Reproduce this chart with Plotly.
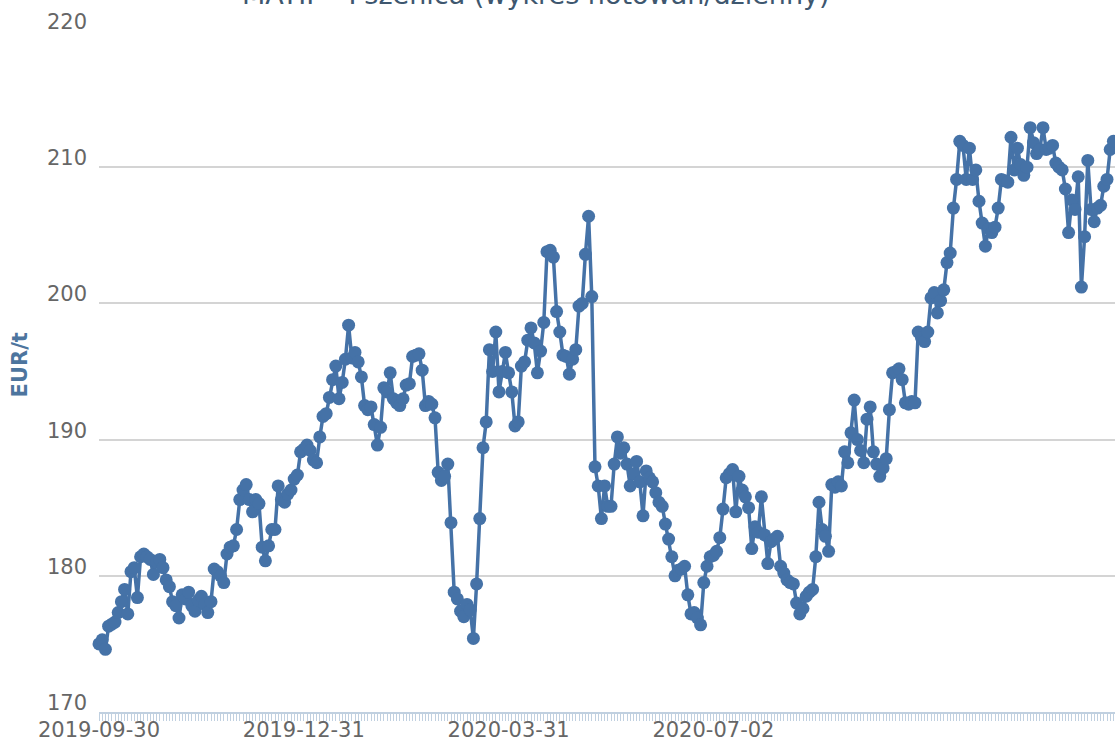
import plotly.graph_objects as go

# ---- data ----
tick_labels = ["2019-09-30", "2019-12-31", "2020-03-31", "2020-07-02"]
tick_index = [0, 64, 128, 192]

prices = [
    175.0, 175.3, 174.6, 176.3, 176.45, 176.6, 177.3, 178.1, 179.0, 177.2,
    180.3, 180.6, 178.4, 181.4, 181.6, 181.4, 181.2, 180.1, 181.0, 181.2,
    180.6, 179.7, 179.2, 178.1, 177.8, 176.9, 178.6, 178.3, 178.8, 177.8,
    177.4, 178.2, 178.5, 177.9, 177.3, 178.1, 180.5, 180.3, 180.0, 179.5,
    181.6, 182.1, 182.2, 183.4, 185.6, 186.3, 186.7, 185.6, 184.7, 185.6,
    185.3, 182.1, 181.1, 182.2, 183.4, 183.4, 186.6, 185.6, 185.4, 186.0,
    186.3, 187.1, 187.4, 189.1, 189.3, 189.6, 189.2, 188.5, 188.3, 190.2,
    191.7, 191.9, 193.1, 194.4, 195.4, 193.0, 194.2, 195.9, 198.4, 196.0,
    196.4, 195.7, 194.6, 192.5, 192.2, 192.4, 191.1, 189.6, 190.9, 193.8,
    193.5, 194.9, 193.0, 192.7, 192.5, 193.0, 194.0, 194.1, 196.1, 196.2,
    196.3, 195.1, 192.5, 192.8, 192.6, 191.6, 187.6, 187.0, 187.3, 188.2,
    183.9, 178.8, 178.3, 177.4, 177.0, 177.9, 177.5, 175.4, 179.4, 184.2,
    189.4, 191.3, 196.6, 195.0, 197.9, 193.5, 195.0, 196.4, 194.9, 193.5,
    191.0, 191.3, 195.4, 195.7, 197.3, 198.2, 197.1, 194.9, 196.5, 198.6,
    203.8, 203.9, 203.4, 199.4, 197.9, 196.2, 196.1, 194.8, 195.9, 196.6,
    199.8, 200.0, 203.6, 206.4, 200.5, 188.0, 186.6, 184.2, 186.6, 185.1,
    185.1, 188.2, 190.2, 189.0, 189.4, 188.2, 186.6, 187.5, 188.4, 186.9,
    184.4, 187.7, 187.2, 186.9, 186.1, 185.4, 185.1, 183.8, 182.7, 181.4,
    180.0, 180.4, 180.5, 180.7, 178.6, 177.2, 177.3, 176.9, 176.4, 179.5,
    180.7, 181.4, 181.5, 181.8, 182.8, 184.9, 187.2, 187.5, 187.8, 184.7,
    187.3, 186.3, 185.8, 185.0, 182.0, 183.6, 183.2, 185.8, 183.0, 180.9,
    182.5, 182.7, 182.9, 180.7, 180.2, 179.7, 179.5, 179.4, 178.0, 177.2,
    177.6, 178.5, 178.8, 179.0, 181.4, 185.4, 183.4, 182.9, 181.8, 186.7,
    186.5, 186.9, 186.6, 189.1, 188.3, 190.5, 192.9, 190.0, 189.2, 188.3,
    191.5, 192.4, 189.1, 188.2, 187.3, 187.9, 188.6, 192.2, 194.9, 195.0,
    195.2, 194.4, 192.7, 192.6, 192.8, 192.7, 197.9, 197.5, 197.2, 197.9,
    200.4, 200.8, 199.3, 200.2, 201.0, 203.0, 203.7, 207.0, 209.1, 211.9,
    211.6, 209.1, 211.4, 209.1, 209.8, 207.5, 205.9, 204.2, 205.5, 205.2,
    205.6, 207.0, 209.1, 209.0, 208.9, 212.2, 209.8, 211.4, 210.2, 209.4,
    210.0, 212.9, 211.8, 211.0, 211.3, 212.9, 211.3, 211.4, 211.6, 210.3,
    210.0, 209.8, 208.4, 205.2, 207.6, 206.9, 209.3, 201.2, 204.9, 210.5,
    206.9, 206.0, 207.0, 207.2, 208.6, 209.1, 211.3, 211.9,
]

y_ticks = [170, 180, 190, 200, 210, 220]

title_text = "MATIF - Pszenica (wykres notowań/dzienny)"
y_title = "EUR/t"

SERIES = "#4572A7"
AXIS = "#C0D0E0"
LABEL = "#666666"

idx = list(range(len(prices)))

fig = go.Figure()
fig.add_trace(go.Scatter(
    x=idx, y=prices, mode="lines+markers",
    line=dict(color=SERIES, width=3.5),
    marker=dict(color=SERIES, size=13),
    cliponaxis=False, hoverinfo="x+y", showlegend=False,
))

# y-axis labels sit just above their grid lines (as in the reference)
y_label_annotations = [
    dict(text=str(v), xref="paper", yref="y", x=0, y=v,
         xanchor="right", yanchor="middle", xshift=-10, yshift=9,
         showarrow=False, font=dict(size=21, color=LABEL, family="DejaVu Sans"))
    for v in y_ticks
]

fig.update_layout(
    width=1115, height=744,
    margin=dict(l=99, r=0, t=31, b=32, autoexpand=False),
    paper_bgcolor="white", plot_bgcolor="white",
    font=dict(family="DejaVu Sans", color=LABEL),
    xaxis=dict(
        range=[0, 317.5], showgrid=False, zeroline=False, automargin=False,
        showline=True, linecolor=AXIS, linewidth=2,
        tickmode="array", tickvals=tick_index, ticktext=tick_labels,
        ticks="outside", ticklen=7, tickcolor=AXIS, tickwidth=1,
        ticklabelstandoff=-9,
        tickfont=dict(size=21, color=LABEL, family="DejaVu Sans"),
        minor=dict(tickmode="linear", tick0=0, dtick=1, ticks="outside",
                   ticklen=7, tickcolor=AXIS, tickwidth=1, showgrid=False),
    ),
    yaxis=dict(
        range=[170, 220], tickmode="array", tickvals=y_ticks, automargin=False,
        showgrid=True, gridcolor="#d4d4d4", gridwidth=2, zeroline=False,
        showline=False, ticks="", showticklabels=False,
    ),
    annotations=y_label_annotations + [
        dict(text=y_title, xref="paper", yref="paper", x=-0.078, y=0.51,
             textangle=-90, showarrow=False, xanchor="center", yanchor="middle",
             font=dict(size=21, color="#4d759e", family="DejaVu Sans", weight="bold")),
        dict(text=title_text, xref="paper", yref="paper", x=0.43, y=1.0284,
             showarrow=False, xanchor="center", yanchor="bottom",
             font=dict(size=27, color="#3E576F", family="DejaVu Sans")),
    ],
)

fig.write_html("out.html", config={"displayModeBar": False},
               post_script="document.body.style.margin='0px';")
